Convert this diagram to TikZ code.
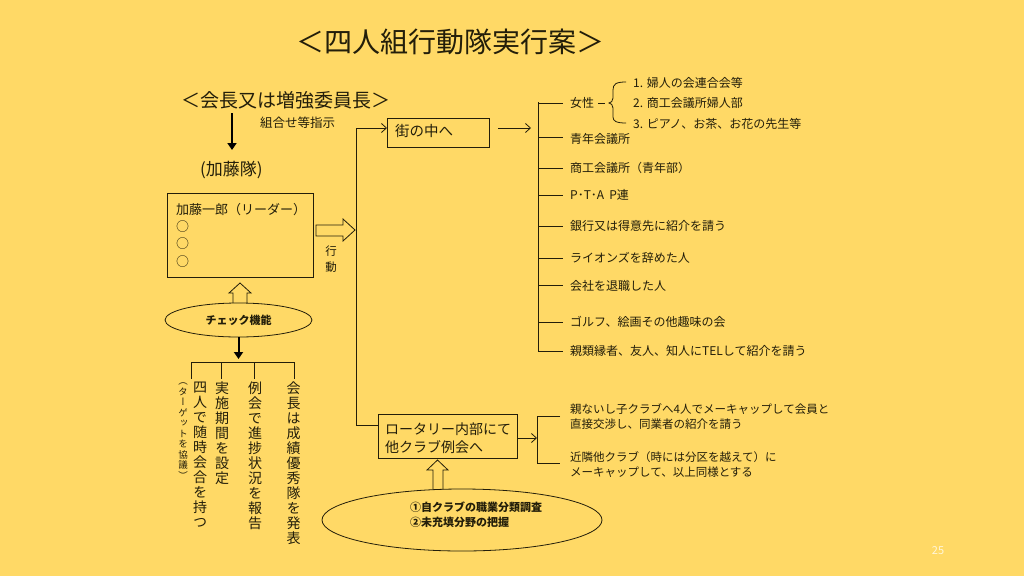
\documentclass[tikz,border=0pt]{standalone}
\usepackage{fontspec}
\setmainfont{Noto Sans CJK JP}
\newfontfamily\jpv[RawFeature=+vert]{Noto Sans CJK JP}
\usetikzlibrary{arrows.meta,shapes.geometric}
\definecolor{bg}{RGB}{255,217,102}
\definecolor{ink}{RGB}{35,30,10}
\begin{document}
\begin{tikzpicture}[x=1pt,y=-1pt,
  ln/.style={draw=ink,line width=0.8pt},
  txt/.style={inner sep=0pt,anchor=west,text=ink},
  boxn/.style={draw=ink,line width=0.8pt,inner sep=0pt,anchor=north west},
  hollow/.style={draw=ink,line width=0.8pt,fill=bg},
  thin arrow/.style={ln,-{Straight Barb[length=5pt,width=9pt]}},
  thick arrow/.style={draw=black,line width=2pt,-{Triangle[length=7pt,width=9pt]}},
  vcol/.style={inner sep=0pt,anchor=north,align=center,text=ink,font=\jpv\fontsize{14}{15}\selectfont},
  f12/.style={font=\fontsize{12}{14}\selectfont},
  f115/.style={font=\fontsize{11.5}{13}\selectfont}]
\fill[bg] (0,0) rectangle (1024,576);
\useasboundingbox (0,0) rectangle (1024,576);

% title
\node[inner sep=0pt,text=ink,font=\fontsize{28}{30}\selectfont] (title) at (450,42) {＜四人組行動隊実行案＞};

% chairman
\node[txt,font=\fontsize{19}{21}\selectfont] (chair) at (181,100) {＜会長又は増強委員長＞};
\coordinate (a1s) at (232,113);
\coordinate (a1e) at (232,150);
\draw[thick arrow] (a1s) -- (a1e);
\node[txt,font=\fontsize{12.5}{14}\selectfont] (inst) at (260,123) {組合せ等指示};
\node[txt,font=\fontsize{17}{19}\selectfont] (team) at (200,170) {(加藤隊)};

% team box
\node[boxn,minimum width=146pt,minimum height=84pt] (box1) at (167,193) {};
\node[txt,font=\fontsize{13}{15}\selectfont] (leader) at (176,210) {加藤一郎（リーダー）};
\node[txt,font=\fontsize{13}{15}\selectfont] (m1) at (176,227) {○};
\node[txt,font=\fontsize{13}{15}\selectfont] (m2) at (176,244) {○};
\node[txt,font=\fontsize{13}{15}\selectfont] (m3) at (176,262) {○};

% action arrow
\draw[hollow] (316,225) -- (343,225) -- (343,219) -- (355,230) -- (343,241) -- (343,236) -- (316,236) -- cycle;
\node[inner sep=0pt,text=ink,font=\fontsize{11.5}{13}\selectfont] (k1) at (331,251) {行};
\node[inner sep=0pt,text=ink,font=\fontsize{11.5}{13}\selectfont] (k2) at (331,267) {動};

% check
\draw[hollow] (233,304) -- (233,293) -- (229,293) -- (240,283) -- (251,293) -- (247,293) -- (247,304) -- cycle;
\node[ellipse,draw=ink,line width=0.8pt,fill=bg,minimum width=147pt,minimum height=34pt,inner sep=0pt,
      text=ink,font=\bfseries\fontsize{11}{13}\selectfont] (chk) at (238.5,320) {チェック機能};
\coordinate (a2e) at (238.5,359);
\draw[thick arrow] (chk.south) -- (a2e);

% tree
\coordinate (t0) at (191,362);
\coordinate (t3) at (294,362);
\draw[ln] (t0) -- (t3);
\draw[ln] (191,362) -- (191,379);
\draw[ln] (221,362) -- (221,379);
\draw[ln] (254,362) -- (254,379);
\draw[ln] (294,362) -- (294,379);

\node[vcol,font=\jpv\fontsize{9.5}{10.5}\selectfont] (v0) at (183,383) {（\\タ\\ー\\ゲ\\ッ\\ト\\を\\協\\議\\）};
\node[vcol] (v1) at (200,382) {四\\人\\で\\随\\時\\会\\合\\を\\持\\つ};
\node[vcol] (v2) at (222,382) {実\\施\\期\\間\\を\\設\\定};
\node[vcol] (v3) at (255,382) {例\\会\\で\\進\\捗\\状\\況\\を\\報\\告};
\node[vcol] (v4) at (293.5,382) {会\\長\\は\\成\\績\\優\\秀\\隊\\を\\発\\表};

% main split line
\coordinate (j1) at (356,128);
\coordinate (j2) at (356,425);
\node[boxn,minimum width=102pt,minimum height=29pt] (town) at (387,118) {};
\node[txt,font=\fontsize{14.5}{16}\selectfont] (townt) at (395,131) {街の中へ};
\draw[thin arrow] (j2) -- (j1) -- (j1 -| town.west);

\coordinate (r0) at (498,128);
\coordinate (r1) at (531,128);
\draw[thin arrow] (r0) -- (r1);

% right list
\draw[ln] (538,102) -- (538,351);
\foreach \yy in {103,137,168,195,226,258,285,322,351}{\draw[ln] (538,\yy) -- (563,\yy);}
\node[txt,f12] (i1) at (570,103) {女性};
\node[txt,f12] (i2) at (570,139) {青年会議所};
\node[txt,f12] (i3) at (570,168) {商工会議所（青年部）};
\node[txt,f12] (i4) at (570,195) {P･T･A\hspace{5pt}P連};
\node[txt,f12] (i5) at (570,226) {銀行又は得意先に紹介を請う};
\node[txt,f12] (i6) at (570,258) {ライオンズを辞めた人};
\node[txt,f12] (i7) at (570,286) {会社を退職した人};
\node[txt,f12] (i8) at (570,322) {ゴルフ、絵画その他趣味の会};
\node[txt,f12] (i9) at (570,351) {親類縁者、友人、知人にTELして紹介を請う};

% brace
\draw[ln] (i1.east) ++(4,0) -- ++(7,0);
\draw[ln] (626,82) .. controls (616,82) and (613,84) .. (613,90) -- (613,98)
   .. controls (613,101) and (611,103) .. (609,103)
   .. controls (611,103) and (613,105) .. (613,108) -- (613,117)
   .. controls (613,121) and (616,123) .. (626,123);
\node[txt,f12] (w1) at (633,83) {1. 婦人の会連合会等};
\node[txt,f12] (w2) at (633,103) {2. 商工会議所婦人部};
\node[txt,f12] (w3) at (633,124) {3. ピアノ、お茶、お花の先生等};

% rotary box
\node[boxn,minimum width=139pt,minimum height=44pt] (rot) at (378,414) {};
\node[txt,align=left,font=\fontsize{14}{18}\selectfont] (rott) at (385,438) {ロータリー内部にて\\他クラブ例会へ};
\draw[ln] (j2) -- (j2 -| rot.west);
\coordinate (br) at (537,438);
\draw[thin arrow] (rot.east |- br) -- (br);
\draw[ln] (560,416) -- (537,416) -- (537,463) -- (560,463);
\node[txt,f115] (q1) at (570,409) {親ないし子クラブへ4人でメーキャップして会員と};
\node[txt,f115] (q2) at (570,424) {直接交渉し、同業者の紹介を請う};
\node[txt,f115] (q3) at (570,457) {近隣他クラブ（時には分区を越えて）に};
\node[txt,f115] (q4) at (570,472) {メーキャップして、以上同様とする};

% survey
\draw[hollow] (433,490) -- (433,470) -- (427,470) -- (437.5,460) -- (448,470) -- (443,470) -- (443,490) -- cycle;
\node[ellipse,draw=ink,line width=0.8pt,fill=bg,minimum width=280pt,minimum height=62pt,inner sep=0pt] (surv) at (462,520) {};
\node[txt,align=left,font=\bfseries\fontsize{11}{15}\selectfont] (survt) at (410,515) {①自クラブの職業分類調査\\②未充填分野の把握};

% page number
\node[inner sep=0pt,text=white!75!bg,font=\fontsize{11}{13}\selectfont] (pg) at (938,551) {25};
\end{tikzpicture}
\end{document}
